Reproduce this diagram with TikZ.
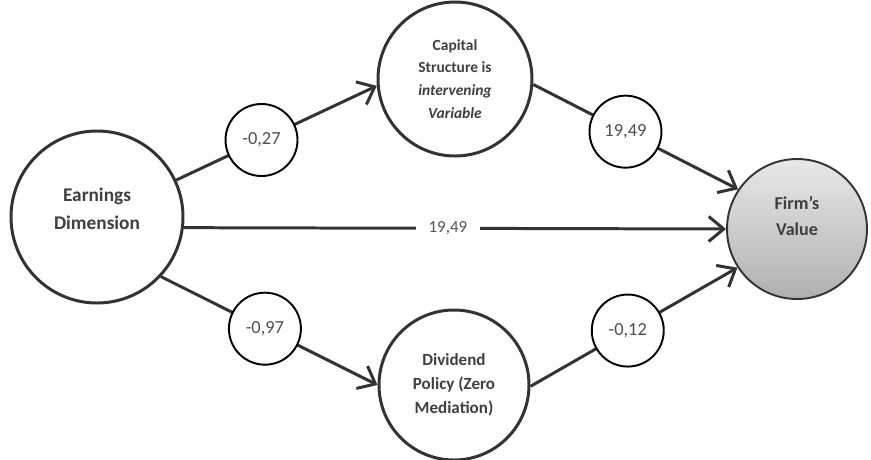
\documentclass[tikz,border=0pt]{standalone}
\usepackage{fontspec}
\setmainfont{Carlito}
\usepackage{tikz}
\usetikzlibrary{arrows.meta}
\definecolor{line grey}{HTML}{333333}
\definecolor{text grey}{HTML}{3F3F3F}
\definecolor{num grey}{HTML}{505050}

\begin{document}
\begin{tikzpicture}[x = 0.2mm, y = -0.2mm,
    var/.style = {circle, draw = line grey, line width = 1.7pt, fill = white,
      text = text grey, align = center, inner sep = 0pt},
    wt/.style = {circle, draw = black, line width = 1.1pt, fill = white,
      text = num grey, minimum size = 14.4mm, inner sep = 0pt,
      font = \fontsize{10.5}{12}\selectfont},
    link/.style = {line grey, line width = 1.7pt,
      -{Straight Barb[length = 3mm, width = 5mm]}}]
      \useasboundingbox (0, 0) rectangle (871, 459);

      % variables (empty last line lifts the text a little)
      \node[var, minimum size = 34.4mm, font = \fontsize{11}{15.5}\selectfont\bfseries]
        (earn) at (97, 217) {Earnings\\Dimension\\[-6pt]\mbox{}};
      \node[var, minimum size = 30.8mm, font = \fontsize{8.8}{13}\selectfont\bfseries]
        (cap) at (455, 79) {Capital\\Structure is\\\textit{intervening}\\\textit{Variable}};
      \node[var, minimum size = 30mm, font = \fontsize{9.7}{13.6}\selectfont\bfseries]
        (div) at (454, 385) {Dividend\\Policy (Zero\\Mediation)};
      \node[var, minimum size = 28mm, line width = 1.1pt, top color = gray!18,
        bottom color = gray!62, font = \fontsize{10.3}{15}\selectfont\bfseries]
        (firm) at (797, 229) {Firm’s\\Value\\\mbox{}};

      % paths with coefficients
      \draw[link] (earn.25) -- node[wt, pos = 0.425] (w1) {-0,27} (cap.185);
      \draw[link] (cap.-4) -- node[wt, pos = 0.45] (w2) {19,49} (firm.146);
      \draw[link] (earn.-7) -- node[fill = white, inner xsep = 2.6mm, text = num grey,
        font = \fontsize{9.6}{11}\selectfont, pos = 0.487] (w3) {19,49} (firm.180);
      \draw[link] (earn.-43) -- node[wt, pos = 0.48] (w4) {-0,97} (div.180);
      \draw[link] (div.-1) -- node[wt, pos = 0.47] (w5) {-0,12} (firm.213);
    \end{tikzpicture}
\end{document}
